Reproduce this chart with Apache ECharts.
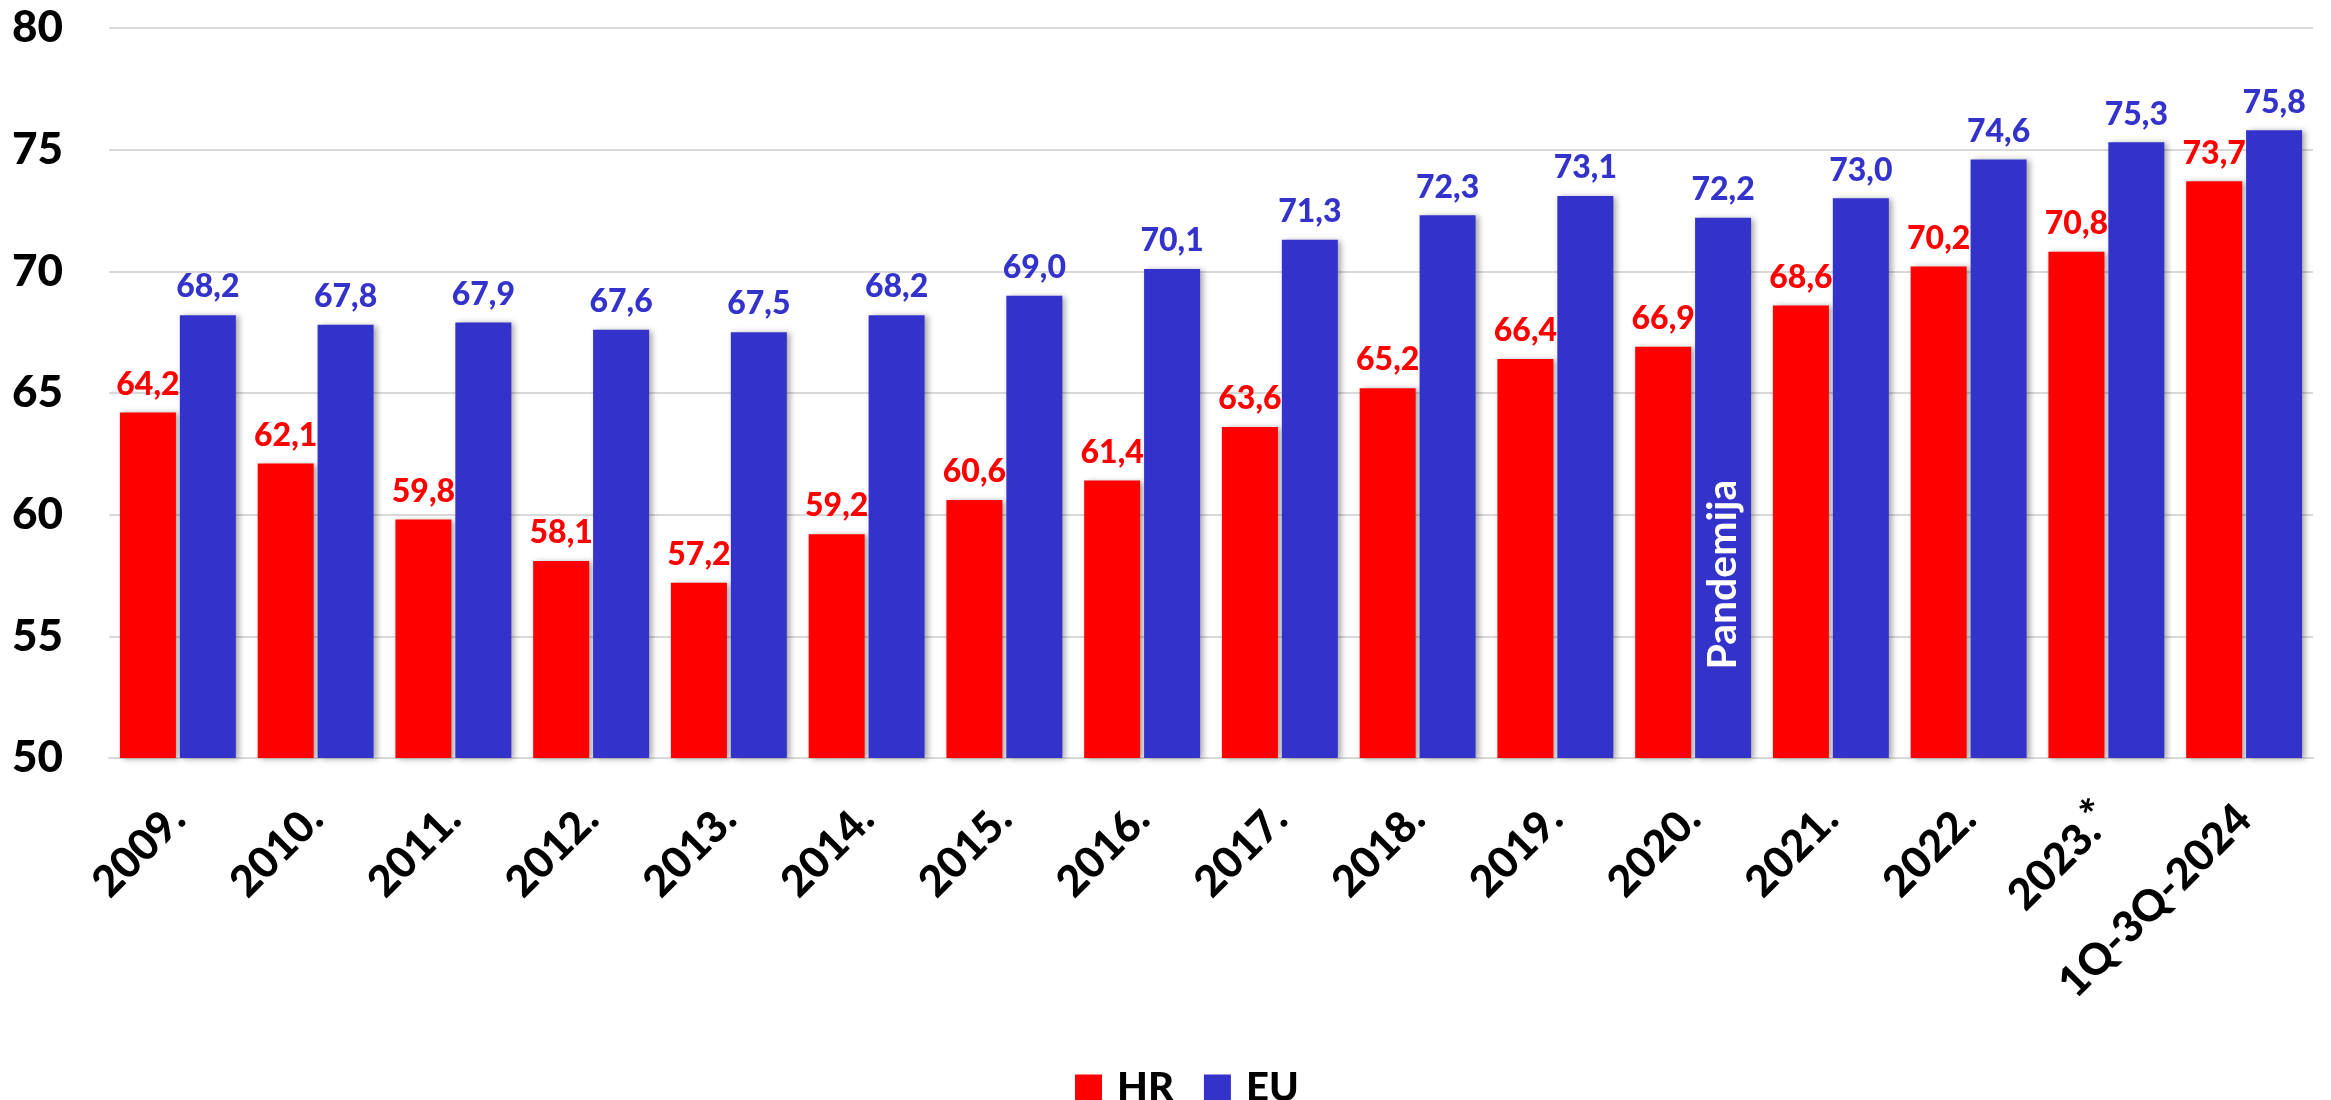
<!DOCTYPE html>
<html>
<head>
<meta charset="utf-8">
<script src="https://cdn.jsdelivr.net/npm/echarts@6/dist/echarts.min.js"></script>
<style>html,body{margin:0;padding:0;background:#fff;}#c{width:2331px;height:1100px;}</style>
</head>
<body>
<div id="c"></div>
<script>
const categories = ['2009.', '2010.', '2011.', '2012.', '2013.', '2014.', '2015.', '2016.', '2017.', '2018.', '2019.', '2020.', '2021.', '2022.', '2023.*', '1Q-3Q-2024'];
const hrValues = [64.2, 62.1, 59.8, 58.1, 57.2, 59.2, 60.6, 61.4, 63.6, 65.2, 66.4, 66.9, 68.6, 70.2, 70.8, 73.7];
const euValues = [68.2, 67.8, 67.9, 67.6, 67.5, 68.2, 69.0, 70.1, 71.3, 72.3, 73.1, 72.2, 73.0, 74.6, 75.3, 75.8];
const seriesNames = ['HR', 'EU'];
const annotation = { text: 'Pandemija', category: '2020.', value: 56.3 };

const FONT = 'Lato';
const W = 900;
const RED = '#FF0000';
const BLUE = '#3333CC';
const fmt = p => p.value.toFixed(1).replace('.', ',');
const shadow = { shadowColor: 'rgba(0,0,0,0.35)', shadowBlur: 6, shadowOffsetX: 3, shadowOffsetY: 1 };

const chart = echarts.init(document.getElementById('c'));
chart.setOption({
  backgroundColor: '#ffffff',
  animation: false,
  grid: { left: 109, right: 18, top: 28, bottom: 342, containLabel: false },
  legend: {
    data: seriesNames,
    left: 1070,
    top: 1063,
    icon: 'rect',
    itemWidth: 27,
    itemHeight: 27,
    itemGap: 30,
    textStyle: { fontFamily: FONT, fontWeight: W, fontSize: 40, color: '#000', padding: [0, 0, 0, 10] }
  },
  xAxis: {
    type: 'category',
    data: categories,
    axisLine: { show: true, lineStyle: { color: '#D9D9D9', width: 2 } },
    axisTick: { show: false },
    axisLabel: {
      interval: 0,
      rotate: 45,
      margin: 54,
      fontFamily: FONT,
      fontWeight: W,
      fontSize: 43,
      color: '#000',
      formatter: v => v.endsWith('*') ? v.slice(0, -1) + '{sup|*}' : v,
      rich: { sup: { fontFamily: FONT, fontWeight: W, fontSize: 43, color: '#000', verticalAlign: 'bottom', padding: [0, 0, 14, 0] } }
    }
  },
  yAxis: {
    type: 'value',
    min: 50,
    max: 80,
    interval: 5,
    axisLine: { show: false },
    axisTick: { show: false },
    splitLine: { show: true, lineStyle: { color: '#D9D9D9', width: 2 } },
    axisLabel: { margin: 46, fontFamily: FONT, fontWeight: W, fontSize: 44, color: '#000' }
  },
  series: [
    {
      name: seriesNames[0],
      type: 'bar',
      data: hrValues,
      barWidth: 56,
      barGap: '7%',
      itemStyle: Object.assign({ color: RED }, shadow),
      label: {
        show: true, position: 'top', distance: 12, formatter: fmt,
        fontFamily: FONT, fontWeight: W, fontSize: 32, color: RED
      }
    },
    {
      name: seriesNames[1],
      type: 'bar',
      data: euValues,
      barWidth: 56,
      barGap: '7%',
      itemStyle: Object.assign({ color: BLUE }, shadow),
      label: {
        show: true, position: 'top', distance: 12, formatter: fmt,
        fontFamily: FONT, fontWeight: W, fontSize: 32, color: BLUE
      },
      markPoint: {
        symbol: 'circle',
        symbolSize: 0,
        silent: true,
        data: [{ name: annotation.text, coord: [annotation.category, annotation.value] }],
        label: {
          show: true,
          formatter: '{b}',
          rotate: 90,
          offset: [30, 0],
          position: 'inside',
          fontFamily: FONT,
          fontWeight: 'bold',
          fontSize: 41,
          color: '#ffffff'
        }
      }
    }
  ]
});
</script>
</body>
</html>
